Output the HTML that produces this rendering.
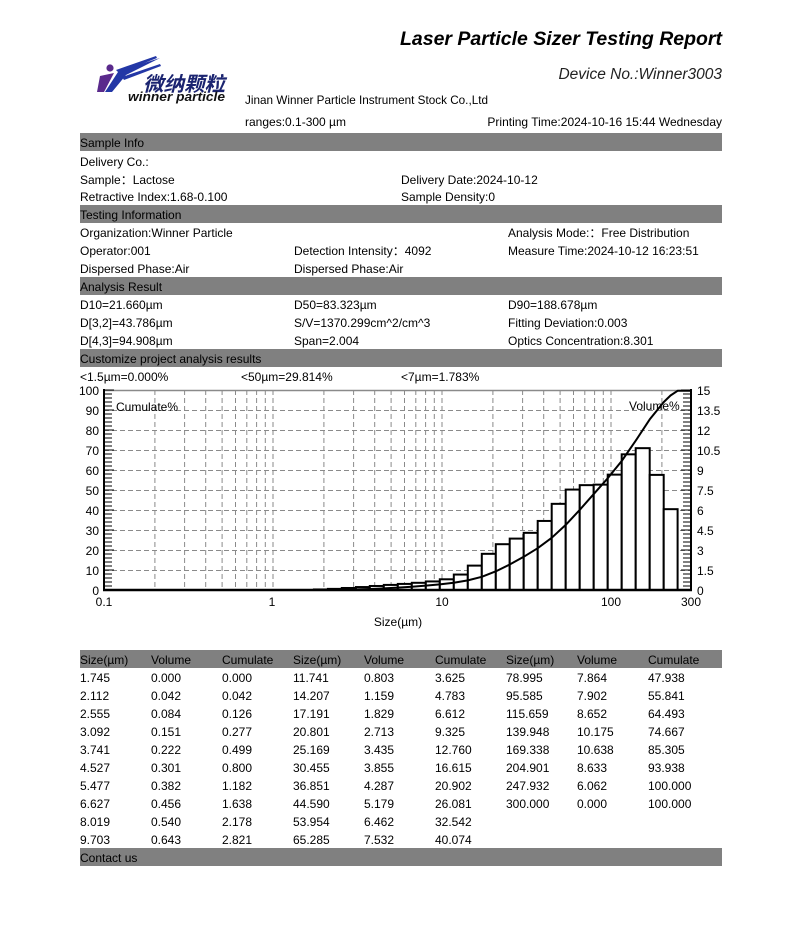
<!DOCTYPE html>
<html><head><meta charset="utf-8"><style>
html,body{margin:0;padding:0;background:#fff;}
svg{display:block;}
text{font-family:"Liberation Sans","Noto Sans CJK SC",sans-serif;font-size:12px;fill:#000;}
</style></head><body>
<svg width="802" height="936" viewBox="0 0 802 936" xmlns="http://www.w3.org/2000/svg">
<rect x="0" y="0" width="802" height="936" fill="#fff"/>

<!-- Title -->
<text x="400" y="45" style="font-size:19.5px;font-weight:bold;font-style:italic" textLength="322" lengthAdjust="spacingAndGlyphs">Laser Particle Sizer Testing Report</text>
<text x="722" y="79" text-anchor="end" style="font-size:15.5px;font-style:italic;fill:#222">Device No.:Winner3003</text>

<!-- Logo -->
<circle cx="110" cy="68" r="3.6" fill="#5a2a8c"/>
<polygon points="97,92 100,76 114,73 104,92" fill="#5a2a8c"/>
<polygon points="105,92 118,72 128,68 160,58 126,75 112,92" fill="#2337a6"/>
<polygon points="116,70 156,56 157,58 119,73" fill="#2337a6"/>
<polygon points="122,77 160,64 161,66 124,80" fill="#2337a6"/>
<text x="143" y="91" style="font-size:20px;font-weight:bold;font-style:italic;fill:#1b2470;font-family:'Noto Sans CJK SC',sans-serif" textLength="82" lengthAdjust="spacingAndGlyphs">微纳颗粒</text>
<text x="128" y="101" style="font-size:13px;font-weight:bold;font-style:italic;fill:#111" textLength="97" lengthAdjust="spacingAndGlyphs">winner particle</text>

<text x="245" y="104" textLength="243" lengthAdjust="spacingAndGlyphs">Jinan Winner Particle Instrument Stock Co.,Ltd</text>
<text x="245" y="126">ranges:0.1-300 µm</text>
<text x="722" y="126" text-anchor="end">Printing Time:2024-10-16 15:44 Wednesday</text>

<!-- Section bars -->
<g fill="#808080">
<rect x="80" y="133" width="642" height="18"/>
<rect x="80" y="205" width="642" height="18"/>
<rect x="80" y="277" width="642" height="18"/>
<rect x="80" y="349" width="642" height="18"/>
<rect x="80" y="650" width="642" height="18"/>
<rect x="80" y="848" width="642" height="18"/>
</g>

<text x="80" y="147">Sample Info</text>
<text x="80" y="166">Delivery Co.:</text>
<text x="80" y="184">Sample：Lactose</text>
<text x="401" y="184">Delivery Date:2024-10-12</text>
<text x="80" y="201">Retractive Index:1.68-0.100</text>
<text x="401" y="201">Sample Density:0</text>

<text x="80" y="219">Testing Information</text>
<text x="80" y="237">Organization:Winner Particle</text>
<text x="508" y="237">Analysis Mode:：Free Distribution</text>
<text x="80" y="255">Operator:001</text>
<text x="294" y="255">Detection Intensity：4092</text>
<text x="508" y="255">Measure Time:2024-10-12 16:23:51</text>
<text x="80" y="273">Dispersed Phase:Air</text>
<text x="294" y="273">Dispersed Phase:Air</text>

<text x="80" y="291">Analysis Result</text>
<text x="80" y="309">D10=21.660µm</text>
<text x="294" y="309">D50=83.323µm</text>
<text x="508" y="309">D90=188.678µm</text>
<text x="80" y="327">D[3,2]=43.786µm</text>
<text x="294" y="327">S/V=1370.299cm^2/cm^3</text>
<text x="508" y="327">Fitting Deviation:0.003</text>
<text x="80" y="345">D[4,3]=94.908µm</text>
<text x="294" y="345">Span=2.004</text>
<text x="508" y="345">Optics Concentration:8.301</text>

<text x="80" y="363">Customize project analysis results</text>
<text x="80" y="381">&lt;1.5µm=0.000%</text>
<text x="241" y="381">&lt;50µm=29.814%</text>
<text x="401" y="381">&lt;7µm=1.783%</text>

<!-- Chart grid -->
<g stroke="#8a8a8a" stroke-width="1" stroke-dasharray="5 3" fill="none">
<path d="M104 410.5H691 M104 430.5H691 M104 450.5H691 M104 470.5H691 M104 490.5H691 M104 510.5H691 M104 530.5H691 M104 550.5H691 M104 570.5H691"/>
<path d="M154.9 390V590 M184.6 390V590 M205.7 390V590 M222.1 390V590 M235.5 390V590 M246.8 390V590 M256.6 390V590 M265.3 390V590 M273 390V590
M323.9 390V590 M353.6 390V590 M374.7 390V590 M391.1 390V590 M404.5 390V590 M415.8 390V590 M425.6 390V590 M434.3 390V590 M442 390V590
M492.9 390V590 M522.6 390V590 M543.7 390V590 M560.1 390V590 M573.5 390V590 M584.8 390V590 M594.6 390V590 M603.3 390V590 M611 390V590
M661.9 390V590"/>
</g>
<line x1="104" y1="390.5" x2="691" y2="390.5" stroke="#8a8a8a" stroke-width="1.5"/>

<!-- Bars -->
<g fill="#fff" stroke="#000" stroke-width="2">
<rect x="313.9" y="589.44" width="14" height="0.56"/>
<rect x="327.9" y="588.88" width="13.9" height="1.12"/>
<rect x="341.8" y="587.99" width="14.1" height="2.01"/>
<rect x="355.9" y="587.04" width="13.9" height="2.96"/>
<rect x="369.8" y="585.99" width="14" height="4.01"/>
<rect x="383.8" y="584.91" width="14" height="5.09"/>
<rect x="397.8" y="583.92" width="14" height="6.08"/>
<rect x="411.8" y="582.8" width="14" height="7.2"/>
<rect x="425.8" y="581.43" width="14" height="8.57"/>
<rect x="439.8" y="579.29" width="14" height="10.71"/>
<rect x="453.8" y="574.55" width="14" height="15.45"/>
<rect x="467.8" y="565.61" width="14" height="24.39"/>
<rect x="481.8" y="553.83" width="14" height="36.17"/>
<rect x="495.8" y="544.2" width="13.9" height="45.8"/>
<rect x="509.7" y="538.6" width="14" height="51.4"/>
<rect x="523.7" y="532.84" width="14" height="57.16"/>
<rect x="537.7" y="520.95" width="14" height="69.05"/>
<rect x="551.7" y="503.84" width="14" height="86.16"/>
<rect x="565.7" y="489.57" width="14" height="100.43"/>
<rect x="579.7" y="485.15" width="14" height="104.85"/>
<rect x="593.7" y="484.64" width="14" height="105.36"/>
<rect x="607.7" y="474.64" width="14" height="115.36"/>
<rect x="621.7" y="454.33" width="14" height="135.67"/>
<rect x="635.7" y="448.16" width="14" height="141.84"/>
<rect x="649.7" y="474.89" width="14" height="115.11"/>
<rect x="663.7" y="509.17" width="13.9" height="80.83"/>
</g>

<!-- Cumulative curve -->
<polyline fill="none" stroke="#000" stroke-width="2" stroke-linejoin="round" points="104,590 313.9,590 327.9,589.9 341.8,589.7 355.9,589.4 369.8,589 383.8,588.4 397.8,587.6 411.8,586.7 425.8,585.6 439.8,584.4 453.8,582.75 467.8,580.4 481.8,576.8 495.8,571.35 509.7,564.5 523.7,556.8 537.7,548.2 551.7,537.8 565.7,524.9 579.7,509.9 593.7,494.1 607.7,478.3 621.7,461 635.7,440.7 649.7,419.4 663.7,402.1 670.5,395.5 677.6,390.8 691.6,390.8"/>

<!-- Axes -->
<line x1="104" y1="389" x2="104" y2="591" stroke="#000" stroke-width="2"/>
<line x1="103" y1="590" x2="692" y2="590" stroke="#000" stroke-width="2.5"/>
<line x1="691" y1="389" x2="691" y2="591" stroke="#000" stroke-width="2"/>
<!-- ticks -->
<line x1="108" y1="590.5" x2="108" y2="389" stroke="#000" stroke-width="8" stroke-dasharray="1 3"/>
<line x1="109" y1="590.5" x2="109" y2="389" stroke="#000" stroke-width="10" stroke-dasharray="1 19"/>
<line x1="687" y1="590.5" x2="687" y2="389" stroke="#000" stroke-width="8" stroke-dasharray="1 3"/>
<line x1="686" y1="590.5" x2="686" y2="389" stroke="#000" stroke-width="10" stroke-dasharray="1 19"/>

<!-- Axis labels -->
<g text-anchor="end">
<text x="99" y="395">100</text>
<text x="99" y="415">90</text>
<text x="99" y="435">80</text>
<text x="99" y="455">70</text>
<text x="99" y="475">60</text>
<text x="99" y="495">50</text>
<text x="99" y="515">40</text>
<text x="99" y="535">30</text>
<text x="99" y="555">20</text>
<text x="99" y="575">10</text>
<text x="99" y="595">0</text>
</g>
<g>
<text x="697" y="395">15</text>
<text x="697" y="415">13.5</text>
<text x="697" y="435">12</text>
<text x="697" y="455">10.5</text>
<text x="697" y="475">9</text>
<text x="697" y="495">7.5</text>
<text x="697" y="515">6</text>
<text x="697" y="535">4.5</text>
<text x="697" y="555">3</text>
<text x="697" y="575">1.5</text>
<text x="697" y="595">0</text>
</g>
<g text-anchor="middle">
<text x="104" y="606">0.1</text>
<text x="272" y="606">1</text>
<text x="442" y="606">10</text>
<text x="611" y="606">100</text>
<text x="691" y="606">300</text>
<text x="398" y="626">Size(µm)</text>
</g>
<text x="116" y="411">Cumulate%</text>
<text x="629" y="410">Volume%</text>

<!-- Table -->
<g>
<text x="80" y="664">Size(µm)</text><text x="151" y="664">Volume</text><text x="222" y="664">Cumulate</text>
<text x="293" y="664">Size(µm)</text><text x="364" y="664">Volume</text><text x="435" y="664">Cumulate</text>
<text x="506" y="664">Size(µm)</text><text x="577" y="664">Volume</text><text x="648" y="664">Cumulate</text>
</g>
<g>
<text x="80" y="682">1.745</text><text x="151" y="682">0.000</text><text x="222" y="682">0.000</text>
<text x="80" y="700">2.112</text><text x="151" y="700">0.042</text><text x="222" y="700">0.042</text>
<text x="80" y="718">2.555</text><text x="151" y="718">0.084</text><text x="222" y="718">0.126</text>
<text x="80" y="736">3.092</text><text x="151" y="736">0.151</text><text x="222" y="736">0.277</text>
<text x="80" y="754">3.741</text><text x="151" y="754">0.222</text><text x="222" y="754">0.499</text>
<text x="80" y="772">4.527</text><text x="151" y="772">0.301</text><text x="222" y="772">0.800</text>
<text x="80" y="790">5.477</text><text x="151" y="790">0.382</text><text x="222" y="790">1.182</text>
<text x="80" y="808">6.627</text><text x="151" y="808">0.456</text><text x="222" y="808">1.638</text>
<text x="80" y="826">8.019</text><text x="151" y="826">0.540</text><text x="222" y="826">2.178</text>
<text x="80" y="844">9.703</text><text x="151" y="844">0.643</text><text x="222" y="844">2.821</text>

<text x="293" y="682">11.741</text><text x="364" y="682">0.803</text><text x="435" y="682">3.625</text>
<text x="293" y="700">14.207</text><text x="364" y="700">1.159</text><text x="435" y="700">4.783</text>
<text x="293" y="718">17.191</text><text x="364" y="718">1.829</text><text x="435" y="718">6.612</text>
<text x="293" y="736">20.801</text><text x="364" y="736">2.713</text><text x="435" y="736">9.325</text>
<text x="293" y="754">25.169</text><text x="364" y="754">3.435</text><text x="435" y="754">12.760</text>
<text x="293" y="772">30.455</text><text x="364" y="772">3.855</text><text x="435" y="772">16.615</text>
<text x="293" y="790">36.851</text><text x="364" y="790">4.287</text><text x="435" y="790">20.902</text>
<text x="293" y="808">44.590</text><text x="364" y="808">5.179</text><text x="435" y="808">26.081</text>
<text x="293" y="826">53.954</text><text x="364" y="826">6.462</text><text x="435" y="826">32.542</text>
<text x="293" y="844">65.285</text><text x="364" y="844">7.532</text><text x="435" y="844">40.074</text>

<text x="506" y="682">78.995</text><text x="577" y="682">7.864</text><text x="648" y="682">47.938</text>
<text x="506" y="700">95.585</text><text x="577" y="700">7.902</text><text x="648" y="700">55.841</text>
<text x="506" y="718">115.659</text><text x="577" y="718">8.652</text><text x="648" y="718">64.493</text>
<text x="506" y="736">139.948</text><text x="577" y="736">10.175</text><text x="648" y="736">74.667</text>
<text x="506" y="754">169.338</text><text x="577" y="754">10.638</text><text x="648" y="754">85.305</text>
<text x="506" y="772">204.901</text><text x="577" y="772">8.633</text><text x="648" y="772">93.938</text>
<text x="506" y="790">247.932</text><text x="577" y="790">6.062</text><text x="648" y="790">100.000</text>
<text x="506" y="808">300.000</text><text x="577" y="808">0.000</text><text x="648" y="808">100.000</text>
</g>
<text x="80" y="862">Contact us</text>
</svg>
</body></html>
